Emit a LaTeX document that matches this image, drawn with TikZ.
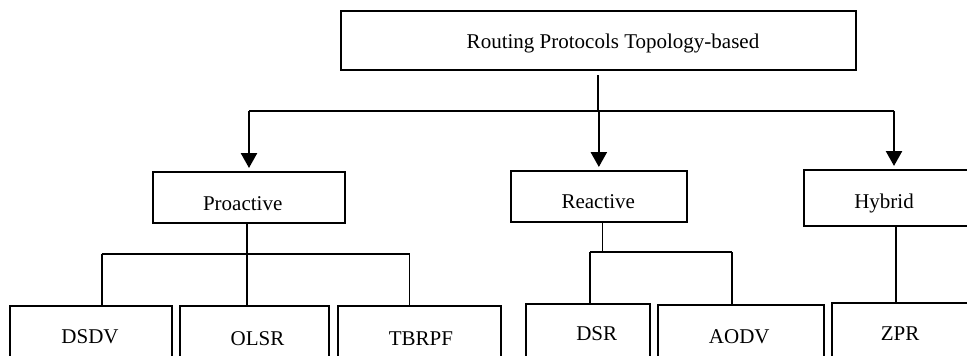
\documentclass[tikz,border=0pt]{standalone}
\usepackage{fontspec}
\setmainfont{Liberation Serif}
\usetikzlibrary{arrows.meta}
\tikzset{
  box/.style={draw, line width=2pt, rectangle, inner sep=0pt, outer sep=0pt},
  txt/.style={font=\fontsize{21}{24}\selectfont, inner sep=0pt, anchor=base},
  conn/.style={line width=1.7pt},
  arr/.style={line width=2.5pt, -{Triangle[length=15pt,width=16pt]}, shorten >=4pt},
}
\begin{document}
\begin{tikzpicture}[x=1pt,y=-1pt]
\useasboundingbox (0,0) rectangle (967,356);
\clip (0,0) rectangle (967,356);
% boxes
\node[box, minimum width=515.5pt, minimum height=59.5pt] (top) at (598.25,40.25) {};
\node[box, minimum width=192pt, minimum height=51pt] (pro) at (248.5,197.5) {};
\node[box, minimum width=176.3pt, minimum height=50.5pt] (rea) at (598.85,196.25) {};
\node[box, minimum width=196pt, minimum height=55.5pt] (hyb) at (902,197.75) {};
\node[box, minimum width=161.5pt, minimum height=74.3pt] (dsdv) at (90.75,342.85) {};
\node[box, minimum width=149.3pt, minimum height=74pt] (olsr) at (254.35,343) {};
\node[box, minimum width=162.4pt, minimum height=74pt] (tbrpf) at (419.6,343) {};
\node[box, minimum width=124.3pt, minimum height=76pt] (dsr) at (587.85,342) {};
\node[box, minimum width=165.7pt, minimum height=75pt] (aodv) at (741.15,342.5) {};
\node[box, minimum width=168.3pt, minimum height=77.3pt] (zpr) at (915.85,341.35) {};
% texts
\node[txt] (topT) at (613,48) {Routing Protocols Topology-based};
\node[txt] (proT) at (242.7,210) {Proactive};
\node[txt] (reaT) at (598.3,208.3) {Reactive};
\node[txt] (hybT) at (884,208.3) {Hybrid};
\node[txt] (dsdvT) at (90,343.3) {DSDV};
\node[txt] (olsrT) at (257.5,345) {OLSR};
\node[txt] (tbrpfT) at (421,345) {TBRPF};
\node[txt] (dsrT) at (596.7,340) {DSR};
\node[txt] (aodvT) at (739.3,343.3) {AODV};
\node[txt] (zprT) at (900,340) {ZPR};
% top level connectors
\coordinate (busL) at (249,110.7);
\coordinate (busR) at (894,110.7);
\draw[conn, shorten <=5pt] (top.south) -- (top.south |- busL);
\draw[conn] (busL) -- (busR);
\draw[arr] (busL) -- (busL |- pro.north);
\draw[arr] (rea.north |- busL) -- (rea.north);
\draw[arr] (busR) -- (busR |- hyb.north);
% proactive
\coordinate (pL) at (101.7,254);
\coordinate (pM) at (246.7,254);
\coordinate (pR) at (409.5,254);
\draw[conn] (pro.south -| pM) -- (pM) -- (pM |- olsr.north);
\draw[conn] (pL) -- (pR);
\draw[conn] (pL) -- (pL |- dsdv.north);
\draw[conn] (pR) -- (pR |- tbrpf.north);
% reactive
\coordinate (rL) at (590,252.3);
\coordinate (rM) at (602.5,252.3);
\coordinate (rR) at (732.3,252.3);
\draw[conn] (rea.south -| rM) -- (rM);
\draw[conn] (rL) -- (rR);
\draw[conn] (rL) -- (rL |- dsr.north);
\draw[conn] (rR) -- (rR |- aodv.north);
% hybrid
\coordinate (hM) at (896,260);
\draw[conn] (hyb.south -| hM) -- (hM |- zpr.north);
\end{tikzpicture}
\end{document}
